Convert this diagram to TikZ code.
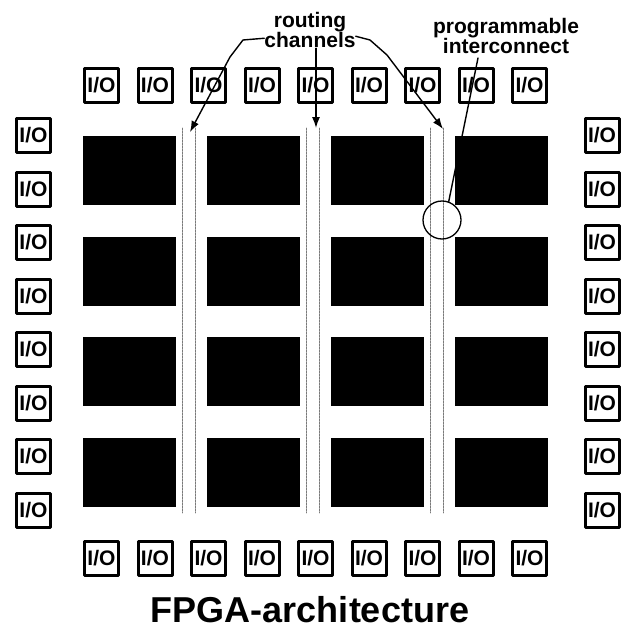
\documentclass[tikz,border=0pt]{standalone}
\usepackage{fontspec}
\setmainfont{Liberation Sans}
\usetikzlibrary{arrows.meta,positioning}
\definecolor{chgrey}{HTML}{7A7A7A}

\begin{document}
\begin{tikzpicture}[x=1pt, y=1pt, line cap=round, line join=round, font=\bfseries,
  iobox/.style={draw, line width=3, minimum width=34, minimum height=34, inner sep=0,
    font=\bfseries\fontsize{21}{21}\selectfont},
  clb/.style={fill=black, minimum width=93, minimum height=69, inner sep=0},
  chan/.style={chgrey, line width=0.8, dash pattern=on 2pt off 1pt},
  lbl/.style={align=center, inner sep=0, font=\bfseries\fontsize{21}{19}\selectfont},
  callout/.style={line width=1.4, -{Latex[length=11,width=8]}}]
  \useasboundingbox (0,0) rectangle (624,-637);
  % logic blocks
  \foreach \r in {0,...,3} {
    \foreach \c in {0,...,3} { \node[clb] (clb\r\c) at ({129.5+124*\c}, {-170.5-100.5*\r}) {}; }
  }
  % routing channels
  \foreach \x in {182,195,306,319,430,443} { \draw[chan] (\x,-128) -- (\x,-513); }
  % I/O ring
  \foreach \i in {0,...,7} {
    \node[iobox] (iol\i) at (33.5, {-135.5-53.5*\i}) {I/O};
    \node[iobox] (ior\i) at (602, {-135.5-53.5*\i}) {I/O};
  }
  \foreach \i in {0,...,8} {
    \node[iobox] (iot\i) at ({101.5+53.5*\i}, -85) {I/O};
    \node[iobox] (iob\i) at ({101.5+53.5*\i}, -558) {I/O};
  }
  % interconnect point
  \node[draw, circle, line width=1.3, minimum size=38, inner sep=0] (xpt) at (442,-220) {};
  % labels
  \node[lbl] (rout) at (310,-30) {routing\\channels};
  \node[lbl] (prog) at (506,-36) {programmable\\interconnect};
  \node[anchor=base, font=\bfseries\fontsize{36}{36}\selectfont] (title) at (310,-622) {FPGA-architecture};
  % callouts
  \coordinate (chw) at ([yshift=10]rout.south west);
  \coordinate (che) at ([yshift=12]rout.south east);
  \coordinate (lefttip) at (190,-132);
  \coordinate (midtip) at (316,-128);
  \coordinate (righttip) at (443,-129);
  \coordinate (intcfoot) at (478,-58);
  \draw[callout] (chw) -- (243,-40) -- (230,-57) -- (lefttip);
  \draw[callout] (midtip |- rout.south) -- (midtip);
  \draw[callout] (che) -- (370,-40) -- (387,-55) -- (righttip);
  \draw[line width=1.4] (intcfoot) -- (xpt.70);
\end{tikzpicture}
\end{document}
